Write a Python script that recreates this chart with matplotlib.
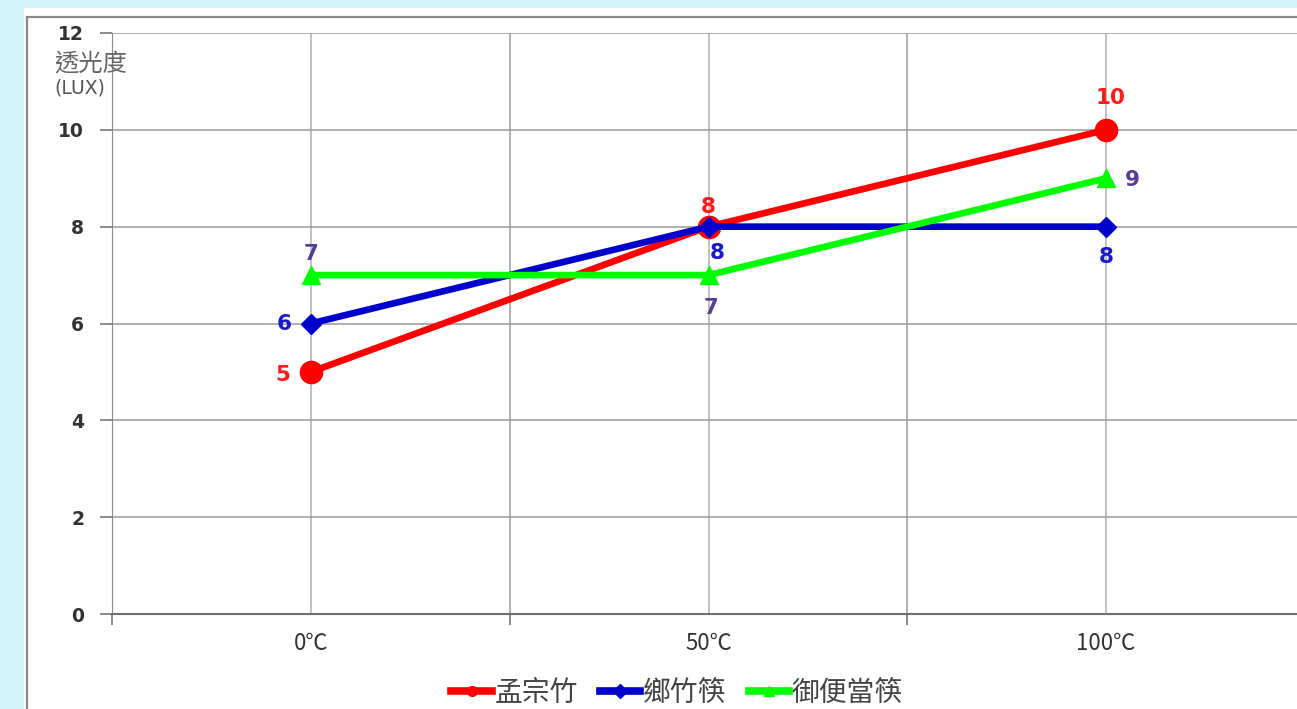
import matplotlib
matplotlib.use("Agg")
import matplotlib.pyplot as plt
from matplotlib.lines import Line2D
from matplotlib.patches import Rectangle

# Data
temps = ["0℃", "50℃", "100℃"]
moso = [5, 8, 10]          # 孟宗竹
township = [6, 8, 8]       # 鄉竹筷
bento = [7, 7, 9]          # 御便當筷
series_names = ["孟宗竹", "鄉竹筷", "御便當筷"]
y_ticks = [0, 2, 4, 6, 8, 10, 12]

CJK = ["Noto Sans CJK TC", "DejaVu Sans"]
plt.rcParams["font.family"] = CJK

W, H, DPI = 1297, 709, 100
fig = plt.figure(figsize=(W / DPI, H / DPI), dpi=DPI)
fig.patch.set_facecolor("#d4f4fb")

def fx(px):
    return px / W

def fy(py):
    return 1 - py / H

# White chart panel with grey frame
fig.patches.append(Rectangle((fx(24), fy(760)), fx(1400), fy(8) - fy(760),
                             transform=fig.transFigure, facecolor="white",
                             edgecolor="none", zorder=0))
fig.patches.append(Rectangle((fx(27), fy(760)), fx(1400), fy(17) - fy(760),
                             transform=fig.transFigure, facecolor="none",
                             edgecolor="#8a8a8a", linewidth=1.6, zorder=1))

ax = fig.add_axes([fx(112), fy(614), fx(1305) - fx(112), fy(33) - fy(614)])
ax.set_zorder(2)
ax.set_facecolor("none")
x = list(range(len(temps)))

ax.set_xlim(-0.5, len(temps) - 0.5)
ax.set_ylim(0, 12)
ax.set_yticks(y_ticks)
ax.set_yticklabels([str(v) for v in y_ticks], fontsize=13.5, fontweight="bold",
                   color="#333333", family=["DejaVu Sans"])
ax.set_xticks([-0.5, 0.5, 1.5, 2.5])
ax.set_xticklabels([])
ax.set_xticks(x, minor=True)
ax.set_xticklabels(temps, minor=True, fontsize=16, color="#333333", family=CJK)
ax.tick_params(axis="x", which="major", length=8, color="#777777", width=1.2)
ax.tick_params(axis="x", which="minor", length=0, pad=13)
ax.tick_params(axis="y", length=9, color="#777777", width=1.2, pad=11)

ax.grid(True, which="major", color="#9a9a9a", linewidth=1.1)
ax.grid(True, which="minor", axis="x", color="#b0b0b0", linewidth=1.1)
ax.set_axisbelow(True)
for side in ["top", "right"]:
    ax.spines[side].set_visible(False)
ax.spines["left"].set_color("#8a8a8a")
ax.spines["bottom"].set_color("#707070")
ax.spines["bottom"].set_linewidth(1.5)

styles = [
    (moso, "#ff0000", "o", 16),
    (township, "#0000cc", "D", 10),
    (bento, "#00ff00", "^", 13),
]
handles = []
for (vals, col, mk, ms), name in zip(styles, series_names):
    ax.plot(x, vals, color=col, linewidth=4.8, marker=mk, markersize=ms,
            markeredgecolor=col, solid_capstyle="round", zorder=3, clip_on=False)
    handles.append(Line2D([], [], color=col, linewidth=5.5, marker=mk,
                          markersize=7, markeredgecolor=col))

# Value labels
label_offsets = {
    "moso": [(-20, -2), (0, 14), (3, 23)],
    "township": [(-19, 0), (6, -19), (0, -22)],
    "bento": [(0, 15), (2, -24), (19, -1)],
}
label_colors = {"moso": "#ff1a1a", "township": "#1a1ac8", "bento": "#5a3c96"}
for key, vals in [("moso", moso), ("township", township), ("bento", bento)]:
    for i, v in enumerate(vals):
        ax.annotate(str(v), (x[i], v), xytext=label_offsets[key][i],
                    textcoords="offset points", ha="center", va="center",
                    fontsize=15.5, fontweight="bold", color=label_colors[key],
                    family=["DejaVu Sans"], zorder=5)

# Axis title
fig.text(fx(54), fy(64), "透光度", fontsize=17.5, color="#666666",
         ha="left", va="center", family=CJK)
fig.text(fx(54), fy(88), "(LUX)", fontsize=13.5, color="#555555",
         ha="left", va="center", family=["DejaVu Sans"])

leg = fig.legend(handles, series_names, loc="center",
                 bbox_to_anchor=(fx(677), fy(693)), ncol=3, frameon=False,
                 fontsize=20, handlelength=1.45, handletextpad=0.1,
                 columnspacing=0.8, borderpad=0)
for t in leg.get_texts():
    t.set_color("#444444")

fig.savefig("out.png", dpi=DPI)
